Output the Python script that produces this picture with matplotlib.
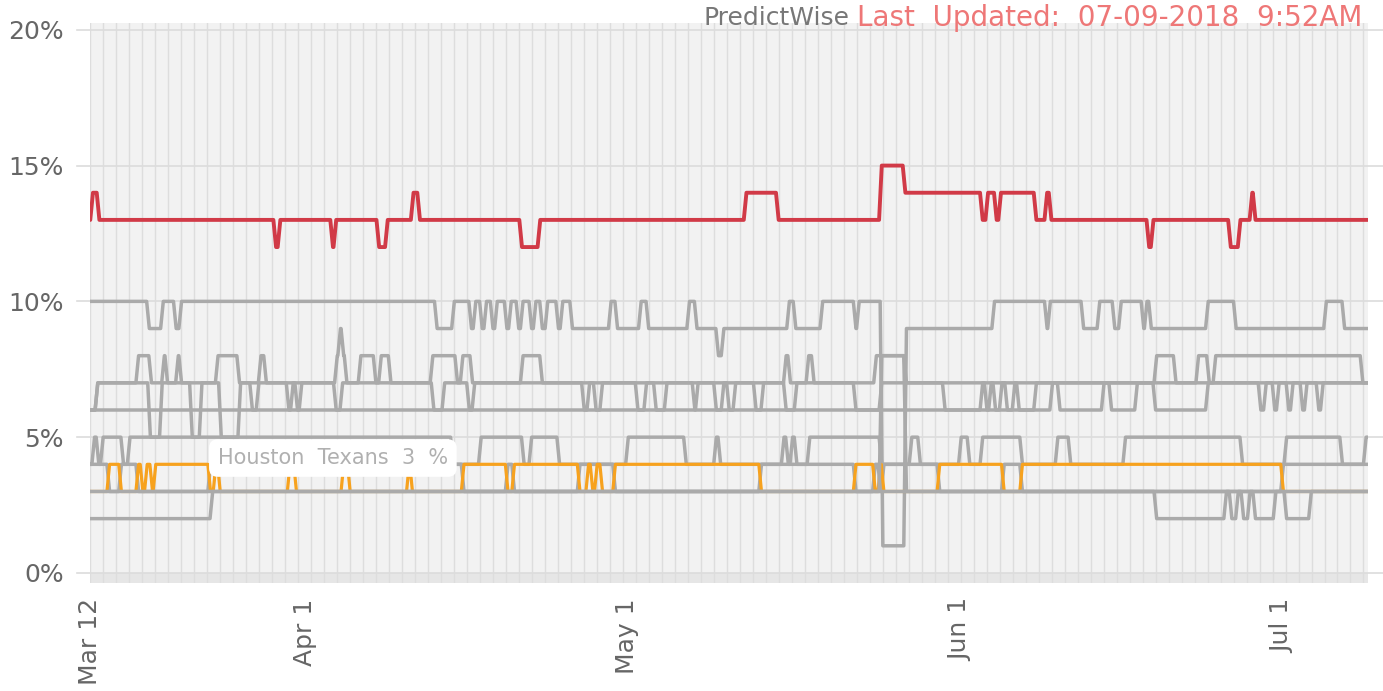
import matplotlib
matplotlib.use('Agg')
import matplotlib.pyplot as plt
import numpy as np
import pandas as pd

START = pd.Timestamp('2018-03-12')
END_DAY = 119

# Each series: days since Mar 12 where the value changes, and the new value (%)
red_days = [0, 0.15, 0.75, 17.2, 17.6, 22.5, 22.8, 26.8, 27.6, 30.0, 30.6, 40.1, 41.8,
            61.0, 64.0, 73.6, 75.8, 83.0, 83.5, 84.3, 84.7, 88.0, 89.0, 89.4,
            98.5, 98.9, 106.1, 107.0, 108.1, 108.4]
red_vals = [13, 14, 13, 12, 13, 12, 13, 12, 13, 14, 13, 12, 13,
            14, 13, 15, 14, 13, 14, 13, 14, 13, 14, 13,
            12, 13, 12, 13, 14, 13]

texans_days = [0, 1.7, 2.8, 4.4, 4.8, 5.2, 5.7, 6.0, 11.1, 11.6, 12.0, 18.5, 19.1,
               23.5, 24.1, 29.6, 29.9, 34.7, 38.8, 39.4, 45.5, 46.3, 46.7, 47.1,
               47.6, 48.8, 62.4, 71.2, 73.0, 73.5, 73.8, 79.0, 85.0, 86.7, 111.0]
texans_vals = [3, 4, 3, 4, 3, 4, 3, 4, 3, 4, 3, 4, 3,
               4, 3, 4, 3, 4, 3, 4, 3, 4, 3, 4,
               3, 4, 3, 4, 3, 4, 3, 4, 3, 4, 3]

g1_days = [0, 5.4, 6.7, 7.9, 8.4, 32.2, 33.8, 35.4, 35.8, 36.4, 36.8, 37.4, 37.8,
           38.7, 39.1, 39.8, 40.2, 41.0, 41.4, 42.0, 42.5, 43.5, 43.9, 44.8,
           48.4, 49.0, 51.2, 51.9, 55.7, 56.4, 58.4, 58.9, 65.0, 65.6, 68.1,
           71.2, 71.5, 73.7, 75.9, 84.1, 89.0, 89.3, 92.4, 93.9, 95.3, 95.9,
           98.0, 98.3, 98.7, 104.0, 106.6, 115.0, 116.7]
g1_vals = [10, 9, 10, 9, 10, 9, 10, 9, 10, 9, 10, 9, 10,
           9, 10, 9, 10, 9, 10, 9, 10, 9, 10, 9,
           10, 9, 10, 9, 10, 9, 8, 9, 10, 9, 10,
           9, 10, 1, 9, 10, 9, 10, 9, 10, 9, 10,
           9, 10, 9, 10, 9, 10, 9]

g2_days = [0, 0.6, 4.4, 5.6, 6.8, 7.1, 8.1, 8.4, 11.8, 13.8, 15.8, 16.3, 22.9, 23.2,
           23.5, 23.8, 25.1, 26.5, 27.0, 27.9, 31.8, 34.1, 34.6, 35.5, 40.2, 42.0,
           64.7, 65.1, 66.8, 67.3, 73.1, 75.9, 99.2, 101.0, 103.1, 104.1, 104.7, 118.4]
g2_vals = [6, 7, 8, 7, 8, 7, 8, 7, 8, 7, 8, 7, 8, 9,
           8, 7, 8, 7, 8, 7, 8, 7, 8, 7, 8, 7,
           8, 7, 8, 7, 8, 7, 8, 7, 8, 7, 8, 7]

g3_days = [0, 89.5, 90.2, 94.3, 95.0, 97.4, 99.1, 104.0, 108.9, 109.4, 110.2, 110.6,
           111.5, 111.9, 112.8, 113.2, 114.3, 114.7]
g3_vals = [6, 7, 6, 7, 6, 7, 6, 7, 6, 7, 6, 7,
           6, 7, 6, 7, 6, 7]

g8_days = [0, 0.6, 5.5, 6.6, 9.4, 10.3, 12.1, 13.9, 15.0, 15.6, 18.4, 18.8, 19.2, 19.6,
           22.8, 23.4, 31.9, 32.9, 35.2, 35.7, 45.9, 46.4, 47.0, 47.6, 50.9, 51.7,
           52.6, 53.6, 56.2, 56.5, 58.2, 58.9, 59.4, 60.0, 61.9, 62.6, 64.7, 65.7,
           71.2, 73.6, 79.5, 83.0, 83.4, 83.8, 84.2, 84.8, 85.3, 86.0, 86.4, 88.0]
g8_vals = [6, 7, 5, 7, 5, 7, 5, 7, 6, 7, 6, 7, 6, 7,
           6, 7, 6, 7, 6, 7, 6, 7, 6, 7, 6, 7,
           6, 7, 6, 7, 6, 7, 6, 7, 6, 7, 6, 7,
           6, 7, 6, 7, 6, 7, 6, 7, 6, 7, 6, 7]

g4_days = [0, 0.3, 0.7, 1.1, 3.0, 3.6, 33.7, 36.3, 40.3, 41.0, 43.6, 50.0, 55.4,
           58.2, 58.6, 64.5, 64.9, 65.3, 65.7, 66.9, 73.6, 76.4, 77.2, 81.0, 81.8,
           83.0, 86.7, 90.0, 91.2, 96.3, 107.2, 111.3, 116.5, 118.7]
g4_vals = [4, 5, 4, 5, 4, 5, 4, 5, 4, 5, 4, 5, 4,
           5, 4, 5, 4, 5, 4, 5, 4, 5, 4, 5, 4,
           5, 4, 5, 4, 5, 4, 5, 4, 5]

g5_days = [0, 1.7, 2.8, 4.4, 11.1, 34.7, 38.8, 39.4, 45.5, 48.8, 62.4, 71.2, 73.0,
           73.5, 73.8, 79.0, 85.0, 86.7, 111.0]
g5_vals = [4, 3, 4, 3, 4, 3, 4, 3, 4, 3, 4, 3, 4,
           3, 4, 3, 4, 3, 4]

g6_days = [0, 99.2, 105.7, 106.2, 106.8, 107.3, 107.9, 108.4, 110.3, 111.3, 113.6]
g6_vals = [3, 2, 3, 2, 3, 2, 3, 2, 3, 2, 3]

g7_days = [0, 11.3, 73.6, 75.9]
g7_vals = [2, 3, 8, 3]

tick_dates = ['2018-03-12', '2018-04-01', '2018-05-01', '2018-06-01', '2018-07-01']
tick_labels = ['Mar 12', 'Apr 1', 'May 1', 'Jun 1', 'Jul 1']
y_ticks = [0, 5, 10, 15, 20]


def vertices(days, vals, ramp=0.25):
    xs, ys = [days[0]], [vals[0]]
    for d, v, prev in zip(days[1:], vals[1:], vals[:-1]):
        xs += [d - ramp / 2, d + ramp / 2]
        ys += [prev, v]
    xs.append(END_DAY)
    ys.append(vals[-1])
    return START + pd.to_timedelta(xs, unit='D'), ys


fig = plt.figure(figsize=(13.83, 6.91), dpi=100)
ax = fig.add_axes([90 / 1383, 108 / 691, 1278 / 1383, 560 / 691])
ax.set_facecolor('#f2f2f2')

gray = '#aaaaaa'
# upper gray lines sit under the Texans line, the 3% lines sit over it
for d, v in [(g5_days, g5_vals), (g1_days, g1_vals), (g2_days, g2_vals),
             (g3_days, g3_vals), (g8_days, g8_vals), (g4_days, g4_vals)]:
    x, y = vertices(d, v)
    ax.plot(x, y, color=gray, lw=2.5, zorder=2)
x, y = vertices(texans_days, texans_vals)
ax.plot(x, y, color='#f7a21e', lw=2.3, zorder=3)
for d, v in [(g6_days, g6_vals), (g7_days, g7_vals)]:
    x, y = vertices(d, v)
    ax.plot(x, y, color=gray, lw=2.5, zorder=4)
x, y = vertices(red_days, red_vals)
ax.plot(x, y, color='#d13a47', lw=2.8, zorder=5)

ax.set_xlim(START, START + pd.Timedelta(days=END_DAY))
ax.set_ylim(-0.37, 20.25)
ax.axhspan(-0.37, 0, color='#e6e6e6', zorder=0)

# thin vertical grid
grid_x = START + pd.to_timedelta(np.arange(0, END_DAY, 1.21), unit='D')
for gx in grid_x:
    ax.axvline(gx, color='#dddddd', lw=1.0, zorder=1)
for yt in y_ticks:
    ax.axhline(yt, xmin=-0.01, xmax=1.02, color='#dcdcdc', lw=1.2,
               zorder=1, clip_on=False)

ax.set_yticks(y_ticks)
ax.set_yticklabels([f'{v}%' for v in y_ticks])
ax.set_xticks(pd.to_datetime(tick_dates))
ax.set_xticklabels(tick_labels, rotation=90)
ax.tick_params(axis='both', length=0, labelsize=18, labelcolor='#666666')
ax.tick_params(axis='y', pad=19)
ax.tick_params(axis='x', pad=11)
for s in ax.spines.values():
    s.set_visible(False)

ax.text(START + pd.Timedelta(days=11.9), 4.23, 'Houston  Texans  3  %',
        fontsize=15, color='#b0b0b0', va='center', ha='left', zorder=10,
        bbox=dict(boxstyle='round,pad=0.42', fc='white', ec='none'))

fig.text(703 / 1383, 1 - 18 / 691, 'PredictWise', fontsize=18, color='#777777',
         ha='left', va='center')
fig.text(1362 / 1383, 1 - 18 / 691, 'Last  Updated:  07-09-2018  9:52AM',
         fontsize=20, color='#ee7777', ha='right', va='center')

fig.savefig('out.png', dpi=100)
